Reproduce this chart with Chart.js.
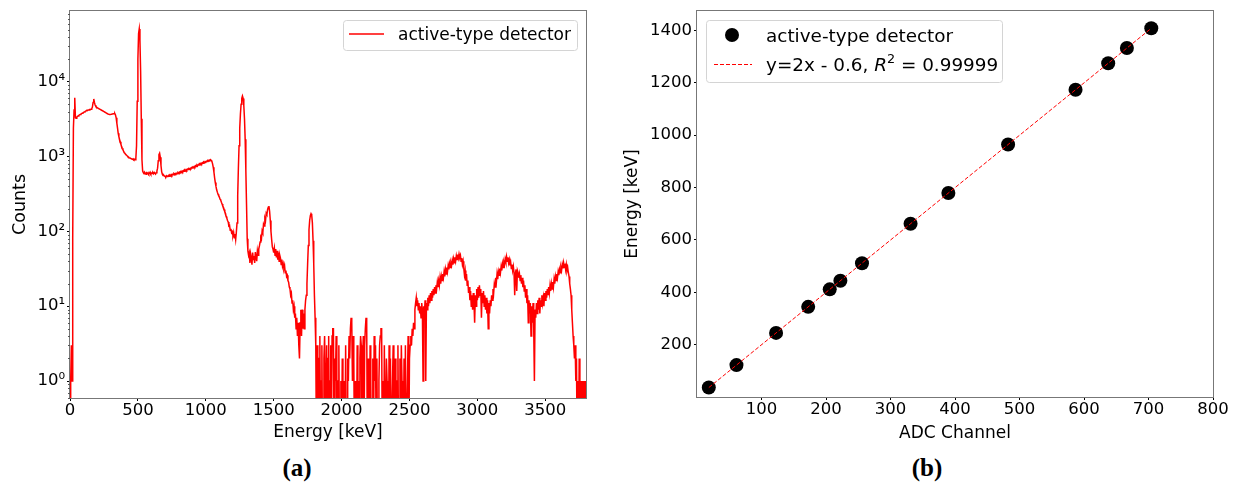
<!DOCTYPE html>
<html>
<head>
<meta charset="utf-8">
<script src="https://cdn.jsdelivr.net/npm/chart.js@4.4.1/dist/chart.umd.min.js"></script>
<style>
  body { margin: 0; background: #fff; width: 1235px; height: 484px; position: relative; overflow: hidden; }
  #spectrum { position: absolute; left: 0; top: 0; }
  #calib { position: absolute; left: 610px; top: 0; }
  .tag { position: absolute; top: 454px; width: 80px; text-align: center; font: bold 25px "Liberation Serif", serif; line-height: 28px; color: #000; }
</style>
</head>
<body>
<canvas id="spectrum" width="600" height="450"></canvas>
<canvas id="calib" width="625" height="450"></canvas>
<div class="tag" style="left:257px">(a)</div>
<div class="tag" style="left:887px">(b)</div>
<script>
// ---- spectrum (a): counts per 5 keV bin, starting at 0 keV ----
var binWidth = 5;
var counts = [
  0, 1, 3, 1, 80, 2400, 4200, 6100, 3300, 3250, 3350, 3450, 3500, 3550, 3600, 3650, 3700, 3750, 3800, 3850,
  3900, 3950, 4000, 4050, 4100, 4150, 4150, 4200, 4200, 4250, 4250, 4300, 4350, 4600, 5300, 5900, 5300, 4900, 4700, 4600,
  4500, 4450, 4400, 4350, 4300, 4250, 4200, 4150, 4100, 4050, 4000, 3950, 3900, 3850, 3800, 3750, 3700, 3680, 3660, 3650,
  3650, 3680, 3700, 3720, 3740, 3750, 3760, 3600, 3300, 2800, 2400, 2050, 1850, 1700, 1580, 1460, 1360, 1290, 1230, 1180,
  1130, 1100, 1070, 1050, 1030, 1000, 990, 970, 960, 950, 940, 930, 920, 935, 910, 925, 905, 950, 1400, 5500,
  20000, 44000, 51000, 36000, 14000, 3200, 900, 640, 610, 590, 615, 600, 580, 605, 595, 610, 585, 600, 620, 590,
  605, 595, 610, 590, 615, 600, 585, 610, 640, 700, 880, 1060, 1110, 980, 760, 630, 580, 560, 565, 550,
  545, 535, 555, 540, 550, 560, 545, 565, 555, 575, 560, 580, 570, 590, 575, 595, 585, 600, 590, 610,
  600, 620, 610, 630, 615, 640, 625, 650, 635, 660, 645, 670, 655, 680, 670, 690, 680, 700, 690, 715,
  705, 725, 715, 740, 725, 755, 740, 770, 755, 785, 770, 800, 785, 815, 800, 830, 815, 845, 830, 860,
  850, 870, 860, 885, 875, 900, 890, 910, 890, 860, 800, 720, 620, 520, 450, 400, 360, 335, 315, 300,
  288, 270, 262, 245, 232, 218, 210, 196, 182, 175, 158, 150, 140, 134, 118, 120, 104, 108, 96, 99,
  88, 97, 82, 92, 78, 98, 130, 300, 700, 1400, 2400, 3700, 5000, 6000, 6450, 6000, 4800, 3200, 1700, 650,
  230, 80, 55, 48, 52, 38, 50, 44, 36, 52, 42, 47, 38, 53, 45, 40, 55, 48, 58, 64,
  72, 84, 80, 102, 96, 125, 118, 150, 140, 175, 168, 195, 210, 218, 185, 140, 100, 78, 62, 58,
  52, 60, 48, 58, 45, 55, 42, 52, 40, 48, 44, 36, 42, 34, 37, 32, 35, 28, 30, 25,
  26, 22, 21, 18, 17, 14, 15, 11, 12, 9, 10, 7, 8, 5, 7, 4, 6, 3, 2, 6,
  9, 4, 9, 5, 8, 5, 9, 12, 14, 20, 37, 65, 105, 140, 162, 172, 165, 130, 75, 37,
  14, 7, 3, 0, 3, 0, 0, 2, 4, 0, 1, 3, 0, 0, 2, 4, 1, 0, 3, 0,
  2, 4, 0, 1, 3, 0, 4, 5, 5, 0, 2, 1, 4, 0, 0, 1, 3, 0, 0, 1,
  0, 2, 0, 0, 1, 0, 3, 0, 0, 2, 1, 4, 2, 5, 7, 6, 1, 4, 2, 0,
  1, 0, 0, 3, 0, 1, 0, 2, 4, 3, 0, 2, 4, 0, 3, 5, 7, 6, 0, 2,
  0, 0, 3, 1, 0, 0, 2, 0, 4, 1, 3, 0, 2, 0, 0, 1, 3, 4, 5, 5,
  0, 1, 0, 3, 0, 0, 2, 1, 0, 0, 3, 0, 2, 0, 0, 1, 3, 0, 0, 2,
  0, 0, 1, 3, 0, 0, 2, 0, 3, 1, 0, 0, 2, 0, 3, 0, 0, 1, 4, 0,
  2, 3, 4, 3, 5, 4, 6, 5, 9, 11, 13, 10, 12, 9, 11, 8, 10, 7, 11, 9,
  1, 10, 8, 12, 1, 11, 9, 13, 10, 14, 11, 15, 12, 16, 13, 17, 14, 18, 15, 19,
  17, 21, 18, 22, 19, 24, 20, 25, 22, 27, 24, 29, 25, 31, 27, 33, 29, 35, 31, 37,
  33, 38, 35, 41, 36, 43, 38, 45, 40, 47, 42, 49, 44, 50, 45, 48, 40, 44, 36, 40,
  32, 26, 30, 22, 27, 19, 22, 15, 18, 12, 16, 10, 14, 9, 15, 11, 6, 14, 10, 17,
  12, 18, 13, 19, 14, 17, 7, 15, 11, 16, 10, 14, 9, 13, 8, 12, 5, 11, 8, 12,
  10, 14, 12, 17, 15, 20, 18, 24, 21, 27, 23, 29, 26, 32, 28, 34, 30, 37, 33, 39,
  36, 43, 39, 46, 40, 45, 38, 42, 35, 39, 32, 36, 30, 34, 28, 14, 27, 31, 16, 30,
  28, 24, 27, 22, 26, 20, 24, 18, 22, 16, 19, 13, 17, 11, 14, 6, 12, 8, 11, 4,
  10, 6, 11, 5, 1, 9, 7, 11, 8, 12, 9, 13, 8, 12, 10, 14, 11, 13, 10, 15,
  12, 16, 13, 17, 14, 18, 15, 19, 16, 20, 17, 21, 18, 23, 20, 25, 22, 27, 24, 29,
  26, 31, 28, 33, 30, 36, 32, 38, 33, 37, 31, 36, 30, 33, 28, 25, 20, 17, 14, 9,
  6, 4, 3, 2, 3, 1, 2, 0, 1, 0, 2, 0, 1, 0, 1, 0, 1, 0, 1, 0,
  1
];
var energyTicks = [0, 500, 1000, 1500, 2000, 2500, 3000, 3500];
var countTicks = [1, 10, 100, 1000, 10000];
// empty bins have no log value; they are put under the axis bottom so the trace drops out of view
var zeroFloor = 0.1;

// ---- calibration (b) ----
var adcChannel = [18.3, 61.2, 122.6, 172.4, 205.8, 222.3, 255.8, 331.1, 389.7, 482.3, 586.9, 637.5, 666.5, 704.3];
var gammaEnergy = [36.0, 121.8, 244.7, 344.3, 411.1, 444.0, 511.0, 661.7, 778.9, 964.1, 1173.2, 1274.5, 1332.5, 1408.0];
var fitSlope = 2;
var fitIntercept = -0.6;
var fitR2 = 0.99999;
var channelTicks = [100, 200, 300, 400, 500, 600, 700, 800];
var calEnergyTicks = [200, 400, 600, 800, 1000, 1200, 1400];

var FONT = 'DejaVu Sans';
Chart.defaults.font.family = FONT;
Chart.defaults.color = '#000';

var supDigits = { '0': '\u2070', '1': '\u00b9', '2': '\u00b2', '3': '\u00b3', '4': '\u2074' };

function tickSet(list) {
  return function(scale) {
    scale.ticks = list.map(function(v) { return { value: v }; });
  };
}

function axisGrid() {
  return { drawOnChartArea: false, drawTicks: true, tickLength: 3, tickColor: '#000', tickWidth: 1 };
}

function tickFont(pad) {
  return {
    color: '#000', font: { family: FONT, size: 16.5, lineHeight: 1 },
    autoSkip: false, maxRotation: 0, padding: pad,
    callback: function(v) { return String(v); }
  };
}

function roundBox(ctx, x, y, w, h, r) {
  ctx.beginPath();
  ctx.moveTo(x + r, y);
  ctx.lineTo(x + w - r, y);
  ctx.arcTo(x + w, y, x + w, y + r, r);
  ctx.lineTo(x + w, y + h - r);
  ctx.arcTo(x + w, y + h, x + w - r, y + h, r);
  ctx.lineTo(x + r, y + h);
  ctx.arcTo(x, y + h, x, y + h - r, r);
  ctx.lineTo(x, y + r);
  ctx.arcTo(x, y, x + r, y, r);
  ctx.closePath();
  ctx.fillStyle = 'rgba(255,255,255,0.8)';
  ctx.fill();
  ctx.strokeStyle = '#d4d4d4';
  ctx.lineWidth = 1;
  ctx.stroke();
}

// box around the plotting area, like the axes spines
var framePlugin = {
  id: 'frame',
  afterDatasetsDraw: function(chart) {
    var a = chart.chartArea, ctx = chart.ctx;
    ctx.save();
    ctx.strokeStyle = '#777';
    ctx.lineWidth = 1;
    ctx.strokeRect(a.left - 0.5, a.top - 0.5, a.right - a.left + 1, a.bottom - a.top + 1);
    ctx.restore();
  }
};

// minor ticks of the log axis
var minorTicks = {
  id: 'minorTicks',
  afterDraw: function(chart) {
    var y = chart.scales.y, ctx = chart.ctx, left = chart.chartArea.left;
    ctx.save();
    ctx.strokeStyle = '#555';
    ctx.lineWidth = 1;
    for (var d = -1; d <= 4; d++) {
      for (var m = 2; m <= 9; m++) {
        var v = m * Math.pow(10, d);
        if (v < y.min || v > y.max) continue;
        var py = Math.round(y.getPixelForValue(v)) + 0.5;
        ctx.beginPath();
        ctx.moveTo(left - 2, py);
        ctx.lineTo(left, py);
        ctx.stroke();
      }
    }
    ctx.restore();
  }
};

var specLegend = {
  id: 'specLegend',
  afterDraw: function(chart) {
    var ctx = chart.ctx, ds = chart.data.datasets[0];
    ctx.save();
    roundBox(ctx, 343.5, 20.5, 234, 30, 3);
    ctx.strokeStyle = ds.borderColor;
    ctx.lineWidth = 1.5;
    ctx.beginPath();
    ctx.moveTo(349, 34);
    ctx.lineTo(384, 34);
    ctx.stroke();
    ctx.fillStyle = '#000';
    ctx.font = '17px "' + FONT + '"';
    ctx.textBaseline = 'alphabetic';
    ctx.fillText(ds.label, 398, 40);
    ctx.restore();
  }
};

var calLegend = {
  id: 'calLegend',
  afterDraw: function(chart) {
    var ctx = chart.ctx, pts = chart.data.datasets[1], fit = chart.data.datasets[0];
    ctx.save();
    roundBox(ctx, 96.5, 20.5, 296, 62, 3);
    ctx.fillStyle = pts.backgroundColor;
    ctx.beginPath();
    ctx.arc(122, 35, pts.pointRadius, 0, Math.PI * 2);
    ctx.fill();
    ctx.strokeStyle = fit.borderColor;
    ctx.lineWidth = fit.borderWidth;
    ctx.setLineDash(fit.borderDash);
    ctx.beginPath();
    ctx.moveTo(104, 64.5);
    ctx.lineTo(142, 64.5);
    ctx.stroke();
    ctx.setLineDash([]);
    ctx.fillStyle = '#000';
    ctx.textBaseline = 'alphabetic';
    ctx.font = '18.4px "' + FONT + '"';
    ctx.fillText(pts.label, 156, 41.5);
    // fit label with italic R and superscript 2
    var parts = [
      ['y=' + fitSlope + 'x - ' + Math.abs(fitIntercept) + ', ', '18.4px', 0],
      ['R', 'italic 18.4px', 0],
      ['2', '12.8px', -7.5],
      [' = ' + fitR2, '18.4px', 0]
    ];
    var x = 156;
    parts.forEach(function(p) {
      ctx.font = p[1] + ' "' + FONT + '"';
      ctx.fillText(p[0], x, 70.5 + p[2]);
      x += ctx.measureText(p[0]).width;
    });
    ctx.restore();
  }
};

var spectrumPoints = counts.map(function(c, i) {
  return { x: i * binWidth, y: c > 0 ? c : zeroFloor };
});

new Chart(document.getElementById('spectrum'), {
  type: 'line',
  data: {
    datasets: [{
      label: 'active-type detector',
      data: spectrumPoints,
      borderColor: '#ff0000',
      borderWidth: 1.5,
      pointRadius: 0,
      fill: false,
      tension: 0
    }]
  },
  options: {
    responsive: false,
    animation: false,
    layout: { padding: { left: 0, top: 11, right: 14, bottom: 0 } },
    plugins: { legend: { display: false }, tooltip: { enabled: false } },
    scales: {
      x: {
        type: 'linear', min: 0, max: 3800,
        afterBuildTicks: tickSet(energyTicks),
        afterFit: function(s) { s.height = 52; },
        grid: axisGrid(),
        border: { display: false },
        ticks: tickFont(1),
        title: { display: true, text: 'Energy [keV]', font: { family: FONT, size: 17 }, padding: { top: 0, bottom: 7 } }
      },
      y: {
        type: 'logarithmic', min: 0.5926, max: 88430,
        afterBuildTicks: tickSet(countTicks),
        afterFit: function(s) { s.width = 70; },
        grid: axisGrid(),
        border: { display: false },
        ticks: Object.assign(tickFont(2), {
          callback: function(v) {
            var e = String(Math.round(Math.log10(v)));
            return '10' + supDigits[e];
          }
        }),
        title: { display: true, text: 'Counts', font: { family: FONT, size: 17.5 }, padding: { top: 10, bottom: 0 } }
      }
    }
  },
  plugins: [framePlugin, minorTicks, specLegend]
});

// straight line from the fitted calibration, over the measured channel range
var chLo = Math.min.apply(null, adcChannel), chHi = Math.max.apply(null, adcChannel);
var fitLine = [chLo, chHi].map(function(c) { return { x: c, y: fitSlope * c + fitIntercept }; });
var calPoints = adcChannel.map(function(c, i) { return { x: c, y: gammaEnergy[i] }; });

new Chart(document.getElementById('calib'), {
  type: 'scatter',
  data: {
    datasets: [{
      type: 'line',
      label: 'fit',
      data: fitLine,
      borderColor: '#ff0000',
      borderWidth: 1,
      borderDash: [4, 2],
      pointRadius: 0,
      showLine: true,
      fill: false,
      order: 0
    }, {
      label: 'active-type detector',
      data: calPoints,
      backgroundColor: '#000',
      borderWidth: 0,
      pointRadius: 7,
      order: 1
    }]
  },
  options: {
    responsive: false,
    animation: false,
    layout: { padding: { left: 0, top: 11, right: 22, bottom: 0 } },
    plugins: { legend: { display: false }, tooltip: { enabled: false } },
    scales: {
      x: {
        type: 'linear', min: 0, max: 800,
        afterBuildTicks: tickSet(channelTicks),
        afterFit: function(s) { s.height = 53; },
        grid: axisGrid(),
        border: { display: false },
        ticks: tickFont(1),
        title: { display: true, text: 'ADC Channel', font: { family: FONT, size: 17 }, padding: { top: 0, bottom: 6 } }
      },
      y: {
        type: 'linear', min: 0, max: 1474,
        afterBuildTicks: tickSet(calEnergyTicks),
        afterFit: function(s) { s.width = 87; },
        grid: axisGrid(),
        border: { display: false },
        ticks: tickFont(2),
        title: { display: true, text: 'Energy [keV]', font: { family: FONT, size: 17 }, padding: { top: 12, bottom: 0 } }
      }
    }
  },
  plugins: [framePlugin, calLegend]
});
</script>
</body>
</html>
